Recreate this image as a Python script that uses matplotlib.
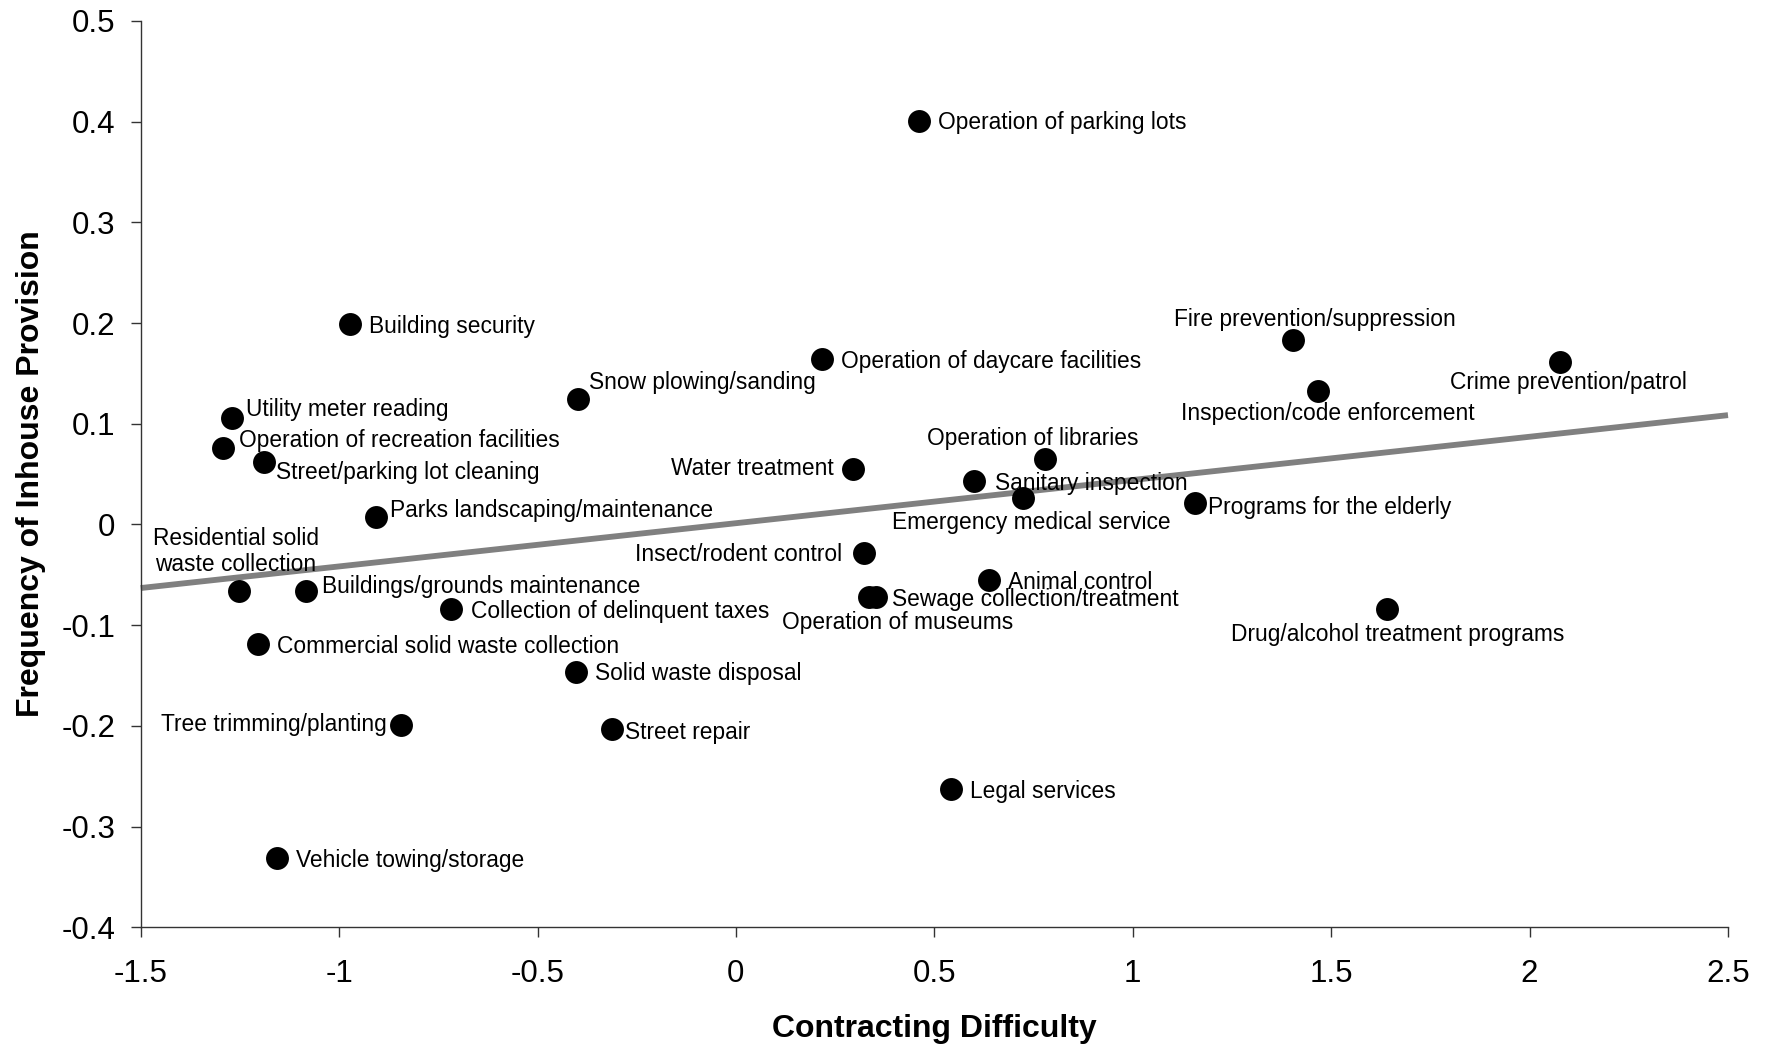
import numpy as np
import matplotlib
matplotlib.use("Agg")
import matplotlib.pyplot as plt

# ---------------- data ----------------
services = [
    "Operation of parking lots", "Building security", "Fire prevention/suppression",
    "Crime prevention/patrol", "Operation of daycare facilities", "Snow plowing/sanding",
    "Inspection/code enforcement", "Utility meter reading", "Operation of recreation facilities",
    "Street/parking lot cleaning", "Water treatment", "Operation of libraries",
    "Sanitary inspection", "Emergency medical service", "Programs for the elderly",
    "Parks landscaping/maintenance", "Insect/rodent control", "Animal control",
    "Sewage collection/treatment", "Operation of museums", "Drug/alcohol treatment programs",
    "Residential solid\nwaste collection", "Buildings/grounds maintenance",
    "Collection of delinquent taxes", "Commercial solid waste collection",
    "Solid waste disposal", "Tree trimming/planting", "Street repair", "Legal services",
    "Vehicle towing/storage",
]
contracting_difficulty = [
    0.462, -0.973, 1.404, 2.076, 0.217, -0.398, 1.467, -1.269, -1.292, -1.190,
    0.296, 0.780, 0.601, 0.724, 1.156, -0.908, 0.322, 0.638, 0.353, 0.336,
    1.640, -1.252, -1.084, -0.717, -1.204, -0.404, -0.845, -0.313, 0.541, -1.156,
]
inhouse_frequency = [
    0.401, 0.199, 0.183, 0.161, 0.164, 0.125, 0.133, 0.106, 0.076, 0.062,
    0.055, 0.065, 0.043, 0.026, 0.021, 0.007, -0.028, -0.055, -0.072, -0.072,
    -0.084, -0.066, -0.066, -0.084, -0.119, -0.146, -0.199, -0.203, -0.263, -0.331,
]
x_ticks = [-1.5, -1, -0.5, 0, 0.5, 1, 1.5, 2, 2.5]
x_tick_labels = ["-1.5", "-1", "-0.5", "0", "0.5", "1", "1.5", "2", "2.5"]
y_ticks = [0.5, 0.4, 0.3, 0.2, 0.1, 0, -0.1, -0.2, -0.3, -0.4]
y_tick_labels = ["0.5", "0.4", "0.3", "0.2", "0.1", "0", "-0.1", "-0.2", "-0.3", "-0.4"]
x_title = "Contracting Difficulty"
y_title = "Frequency of Inhouse Provision"

# ---------------- label layout (offsets in points, alignment) ----------------
label_layout = [
    (13.8, 0, "left"), (13.8, 0, "left"), (15.5, 16.3, "center"),
    (6.5, -13, "center"), (13.8, 0, "left"), (8.1, 13.0, "left"),
    (6.9, -14.6, "center"), (9.8, 7.3, "left"), (11.4, 7.3, "left"),
    (9.0, -5.7, "left"), (-13.8, 2.4, "right"), (-9, 16.3, "center"),
    (14.6, 0, "left"), (5.7, -15.5, "center"), (9.8, -1.6, "left"),
    (10.6, 6.5, "left"), (-15.5, 0, "right"), (13.8, 0, "left"),
    (11.3, 0, "left"), (20.7, -17, "center"), (7.7, -17, "center"),
    (-2.4, 30, "center"), (11.4, 4.9, "left"),
    (13.8, 0, "left"), (13.8, 0, "left"),
    (13.8, 0, "left"), (-9.8, 1.6, "right"), (9.8, -0.8, "left"), (13.8, 0, "left"),
    (13.8, 0, "left"),
]
label_dy_shift = -1.6

plt.rcParams["font.family"] = ["Liberation Sans", "DejaVu Sans"]
plt.rcParams["axes.unicode_minus"] = False

W, H = 1772, 1047
fig = plt.figure(figsize=(W / 100, H / 100), dpi=100)
ax = fig.add_axes([140.7 / W, 1 - 927.3 / H, (1728 - 140.7) / W, (927.3 - 21) / H])

xs = np.array(contracting_difficulty)
ys = np.array(inhouse_frequency)

ax.set_xlim(x_ticks[0], x_ticks[-1])
ax.set_ylim(y_ticks[-1], y_ticks[0])

# OLS trend line across the full x range
slope, intercept = np.polyfit(xs, ys, 1)
xl = np.array(ax.get_xlim())
ax.plot(xl, slope * xl + intercept, color="#808080", lw=4.2, solid_capstyle="butt",
        zorder=2, clip_on=False)

ax.plot(xs, ys, "o", color="black", markersize=16.5, markeredgewidth=0, zorder=3,
        clip_on=False)

for name, x, y, (dx, dy, ha) in zip(services, xs, ys, label_layout):
    ax.annotate(name, (x, y), xytext=(dx, dy + label_dy_shift), textcoords="offset points",
                ha=ha, va="center", fontsize=16.4, color="black", zorder=4,
                multialignment="center", linespacing=1.2)

for side in ("top", "right"):
    ax.spines[side].set_visible(False)
for side in ("left", "bottom"):
    ax.spines[side].set_color("#333333")
    ax.spines[side].set_linewidth(1.0)

ax.set_xticks(x_ticks)
ax.set_xticklabels(x_tick_labels)
ax.set_yticks(y_ticks)
ax.set_yticklabels(y_tick_labels)
ax.tick_params(axis="both", direction="out", length=7.2, width=1.0, color="#333333",
               labelsize=22.5, labelcolor="black")
ax.tick_params(axis="x", pad=15.5)
ax.tick_params(axis="y", pad=11)

fig.text(934 / W, 1 - 1037.5 / H, x_title, ha="center", va="baseline",
         fontsize=23, fontweight="bold")
fig.text(39 / W, 1 - 474 / H, y_title, ha="center", va="baseline", rotation=90,
         rotation_mode="anchor", fontsize=23, fontweight="bold")

fig.savefig("out.png", dpi=100, facecolor="white")
